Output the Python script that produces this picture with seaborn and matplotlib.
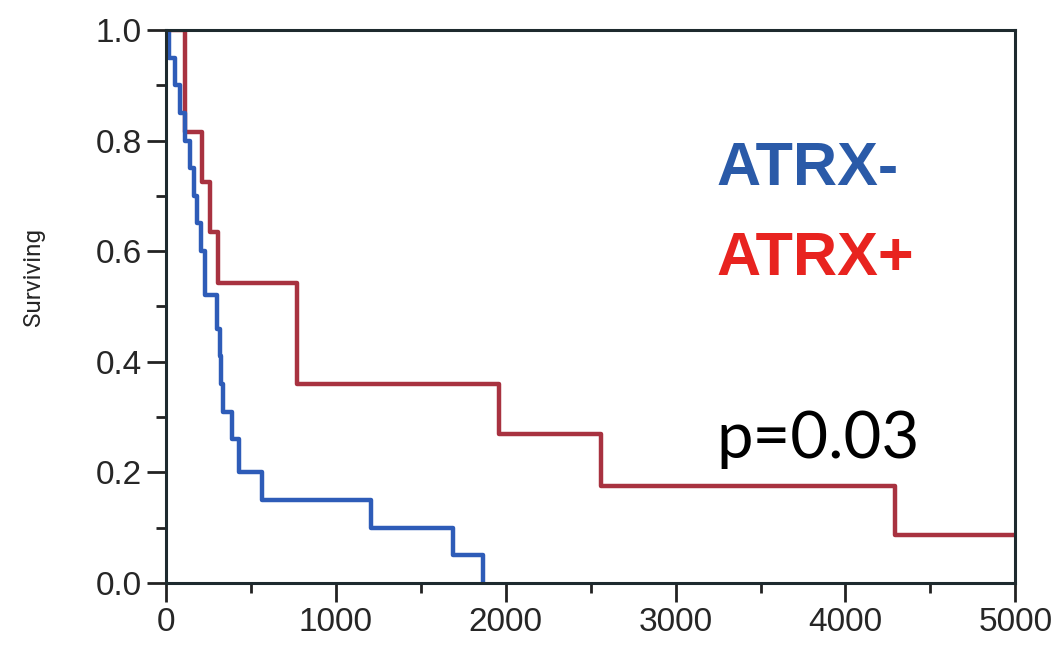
import pandas as pd
import matplotlib
matplotlib.use("Agg")
import matplotlib.pyplot as plt
import seaborn as sns
from matplotlib.ticker import MultipleLocator

# Kaplan-Meier step data (days vs fraction surviving)
neg_time = [0, 20, 50, 80, 110, 140, 165, 185, 205, 230, 302, 315, 325, 335, 390, 431, 567, 1204, 1688, 1865]
neg_surv = [1.0, 0.95, 0.90, 0.85, 0.80, 0.75, 0.70, 0.65, 0.60, 0.52, 0.46, 0.41, 0.36, 0.31, 0.26, 0.20, 0.15, 0.10, 0.05, 0.0]

pos_time = [0, 112, 212, 260, 307, 773, 1960, 2562, 4292, 5000]
pos_surv = [1.0, 0.815, 0.725, 0.635, 0.542, 0.36, 0.27, 0.175, 0.087, 0.087]

df_neg = pd.DataFrame({"time": neg_time, "surv": neg_surv})
df_pos = pd.DataFrame({"time": pos_time, "surv": pos_surv})

sns.set_style("ticks")
plt.rcParams["font.family"] = ["Liberation Sans", "DejaVu Sans"]

fig = plt.figure(figsize=(10.51, 6.64), dpi=100)
ax = fig.add_axes([0.158, 0.122, 0.808, 0.833])

sns.lineplot(data=df_pos, x="time", y="surv", estimator=None, sort=False,
             drawstyle="steps-post", color="#a83240", linewidth=3.2, ax=ax)
sns.lineplot(data=df_neg, x="time", y="surv", estimator=None, sort=False,
             drawstyle="steps-post", color="#2e5cb8", linewidth=3.2, ax=ax)

ax.set_xlim(0, 5000)
ax.set_ylim(0, 1.0)
ax.xaxis.set_major_locator(MultipleLocator(1000))
ax.xaxis.set_minor_locator(MultipleLocator(500))
ax.yaxis.set_major_locator(MultipleLocator(0.2))
ax.yaxis.set_minor_locator(MultipleLocator(0.1))
ax.yaxis.set_major_formatter(matplotlib.ticker.FormatStrFormatter("%.1f"))
ax.tick_params(which="major", length=14, width=2, labelsize=24, direction="out", color="#222222")
ax.tick_params(which="minor", length=7, width=2, direction="out", color="#222222")
for s in ax.spines.values():
    s.set_linewidth(2.2)
    s.set_color("#1e2a2e")

ax.set_xlabel("")
ax.set_ylabel("Surviving", fontsize=17.5, family=["Roboto", "DejaVu Sans"])
ax.yaxis.set_label_coords(-0.143, 0.553)

ax.text(3241, 0.747, "ATRX-", color="#2a5aa8", fontsize=44, fontweight="bold", va="center", ha="left")
ax.text(3241, 0.584, "ATRX+", color="#e8231f", fontsize=44, fontweight="bold", va="center", ha="left")
ax.text(3241, 0.259, "p=0.03", color="black", fontsize=47, va="center", ha="left", family=["Lato", "DejaVu Sans"])

fig.savefig("out.png", dpi=100)
